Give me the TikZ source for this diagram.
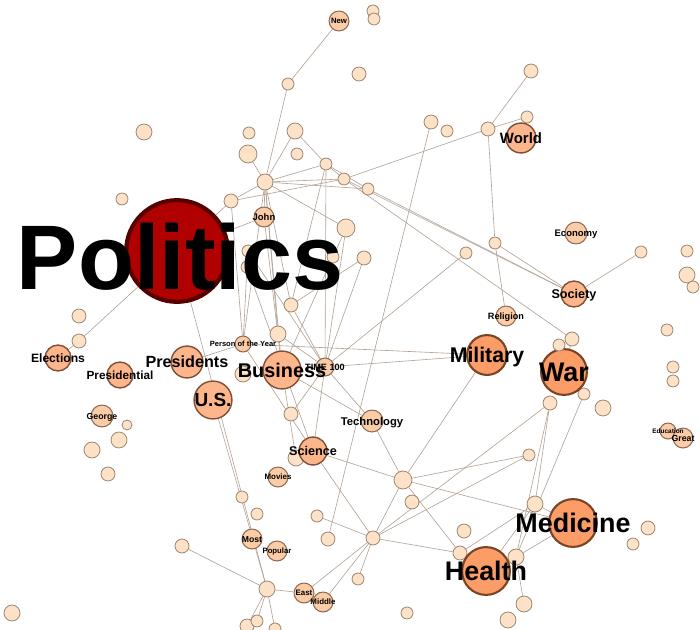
\documentclass[tikz,border=0pt]{standalone}
\usepackage{fontspec}
\setmainfont{Liberation Sans}
\usetikzlibrary{backgrounds}
\definecolor{edgec}{HTML}{B3A294}
\definecolor{paleF}{HTML}{FDE2C8}
\definecolor{paleD}{HTML}{9C8470}
\definecolor{midF}{HTML}{FBCCA6}
\definecolor{midD}{HTML}{8E6A55}
\definecolor{bigF}{HTML}{FDB68B}
\definecolor{bigD}{HTML}{7E5038}
\definecolor{hotF}{HTML}{FC9D68}
\definecolor{hotD}{HTML}{7A4527}
\definecolor{polF}{HTML}{B00000}
\definecolor{polD}{HTML}{560000}
\begin{document}
\begin{tikzpicture}[x=0.02cm,y=-0.02cm,
  vx/.style={circle,inner sep=0pt,minimum size=#1*1.1339pt},
  pale/.style={vx=#1,fill=paleF,draw=paleD,line width=0.45pt},
  mid/.style={vx=#1,fill=midF,draw=midD,line width=0.6pt},
  big/.style={vx=#1,fill=bigF,draw=bigD,line width=0.8pt},
  hot/.style={vx=#1,fill=hotF,draw=hotD,line width=1.2pt},
  lab/.style={inner sep=0pt,text height=#1*0.72pt,text depth=0pt,
    font=\bfseries\fontsize{#1pt}{#1pt}\selectfont},
  ed/.style={draw=edgec,line width=0.35pt}]
\useasboundingbox (0,0) rectangle (700,629);

% plain topic nodes
\foreach \n/\x/\y/\r in {
  a1/288/84/6, a2/144/132/8, a3/249/133/6, a4/295/131/8, a5/248/154/9,
  a6/297/154/6, a7/326/164/6, hub/265/182/8, a8/344/179/6, a9/368/189/6,
  a10/122/199/6, a11/231/201/7, a12/346/228/9, a13/248/251/6, a14/247/267/6,
  a15/333/257/6, a16/364/258/7, a17/291/305/7, a18/79/316/7, a19/79/341/7,
  a20/373/11/6, a21/374/19/6, a22/359/74/7, a23/531/71/7, a24/431/122/7,
  a25/447/131/6, a26/488/129/7, a27/527/117/6, a28/495/243/6, a29/466/253/6,
  a30/641/252/6, a31/687/251/6, a32/687/275/8, a33/693/287/6, a34/278/334/8,
  a35/243/374/8, a36/127/425/5, a37/119/440/8, a38/92/450/8, a39/108/474/7,
  a40/291/414/7, a41/296/458/8, a42/242/497/6, a43/257/514/6, a44/317/516/6,
  a45/328/539/7, a46/182/546/7, a47/267/589/8, a48/12/613/8, a49/247/626/7,
  a50/257/621/6, a51/275/629/6, a54/667/330/6, a55/673/367/6, a56/673/381/6,
  a57/584/394/6, a58/550/403/7, a59/603/408/8, a60/529/455/6, a61/403/480/9,
  a62/412/502/7, a63/535/504/8, a64/648/528/7, a65/633/544/6, a66/464/531/7,
  a67/373/538/7, a68/460/553/7, a69/516/557/8, a70/358/579/6, a71/524/604/8,
  a72/407/613/6, a73/508/620/8}
  \node[pale=\r] (\n) at (\x,\y) {};

% labelled topic nodes
\node[mid=10] (new) at (339,21) {};
\node[mid=10] (john) at (264,217) {};
\node[mid=11] (econ) at (576,233) {};
\node[mid=10] (relig) at (506,316) {};
\node[mid=8]  (pers) at (243,344) {};
\node[mid=9]  (time) at (325,367) {};
\node[mid=11] (george) at (102,416) {};
\node[mid=11] (tech) at (372,421) {};
\node[mid=10] (movies) at (278,477) {};
\node[mid=10] (most) at (252,539) {};
\node[mid=10] (popular) at (277,551) {};
\node[mid=10] (east) at (304,593) {};
\node[mid=10] (middle) at (323,602) {};
\node[mid=8]  (educ) at (668,431) {};
\node[mid=10] (great) at (683,438) {};
\node[big=15] (world) at (521,138) {};
\node[big=13] (society) at (574,294) {};
\node[big=13] (elect) at (58,358) {};
\node[big=13] (presl) at (120,375) {};
\node[big=16] (presd) at (187,362) {};
\node[big=19] (us) at (213,400) {};
\node[big=19] (bus) at (282,370) {};
\node[big=14] (sci) at (313,451) {};
\node[hot=20] (mil) at (487,355) {};
\node[hot=23] (war) at (564,372) {};
\node[hot=24] (med) at (573,523) {};
\node[hot=24] (health) at (486,571) {};
\node[pale=7] (a52) at (572,339) {};
\node[pale=6] (a53) at (559,345) {};
\node[circle,inner sep=0pt,minimum size=51*1.1339pt,fill=polF,draw=polD,
  line width=2.4pt] (pol) at (177,251) {};

% links, drawn beneath the nodes
\begin{pgfonlayer}{background}
\fill[white] (0,0) rectangle (700,629);
\foreach \s/\t in {
  new/a1, a1/hub, hub/a5, hub/a4, a4/a7, hub/a11, hub/a7, hub/a8, hub/a9,
  hub/john, hub/a12, hub/bus, hub/a17, hub/a34, hub/pers, a7/a8, a7/a9,
  a7/a17, a7/time, a11/pol, a11/a8, a11/pers, pol/a19, a19/elect, pol/john,
  pol/a47, us/a47, a8/society, a9/society, a8/a26, a8/a52, a26/a23, a26/a27,
  a26/a28, a28/society, a28/relig, society/a30, a24/a45, a29/time, a16/a17,
  a16/time, a12/time, a12/bus, a13/time, a14/sci, a14/pers, john/bus,
  a34/time, a17/time, pers/mil, time/mil, presd/pers, time/tech, time/sci,
  time/a40, bus/tech, pers/sci, bus/a41, mil/a61, tech/a61, a61/med,
  a61/a60, a61/a68, sci/a61, a61/a67, a67/a60, a67/a58, a67/a68, a67/a44,
  a67/east, a67/middle, a67/a70, sci/a67, a47/east, a46/a47, a47/a49,
  a47/a50, a47/a51, war/a52, war/a57, a57/a69, a58/a63, a58/a69,
  a63/health, a69/med, a69/a71, a68/a63, health/a68, health/a69, med/a63}
  \draw[ed] (\s) -- (\t);
\end{pgfonlayer}

% labels
\node[lab=52.2,anchor=base] (polL) at (180,289) {Politics};
\node[lab=4.4] (newL) at (new) {New};
\node[lab=5.4] (johnL) at (john) {John};
\node[lab=5.4] (econL) at (econ) {Economy};
\node[lab=5.2] (religL) at (relig) {Religion};
\node[lab=4.3] (persL) at (pers) {Person of the Year};
\node[lab=5.2] (timeL) at (time) {TIME 100};
\node[lab=5.0] (georgeL) at (george) {George};
\node[lab=6.4] (techL) at (tech) {Technology};
\node[lab=4.5] (moviesL) at (movies) {Movies};
\node[lab=4.9] (mostL) at (most) {Most};
\node[lab=4.4] (popularL) at (popular) {Popular};
\node[lab=4.5] (eastL) at (east) {East};
\node[lab=4.5] (middleL) at (middle) {Middle};
\node[lab=3.7] (educL) at (educ) {Education};
\node[lab=5.0] (greatL) at (great) {Great};
\node[lab=8.5] (worldL) at (world) {World};
\node[lab=7.2] (societyL) at (society) {Society};
\node[lab=6.9] (electL) at (elect) {Elections};
\node[lab=6.7] (preslL) at (presl) {Presidential};
\node[lab=9.2] (presdL) at (presd) {Presidents};
\node[lab=10.8] (usL) at (us) {U.S.};
\node[lab=11.3] (busL) at (bus) {Business};
\node[lab=7.2] (sciL) at (sci) {Science};
\node[lab=12.1] (milL) at (mil) {Military};
\node[lab=15.3] (warL) at (war) {War};
\node[lab=15.3] (medL) at (med) {Medicine};
\node[lab=15.3] (healthL) at (health) {Health};
\end{tikzpicture}
\end{document}
